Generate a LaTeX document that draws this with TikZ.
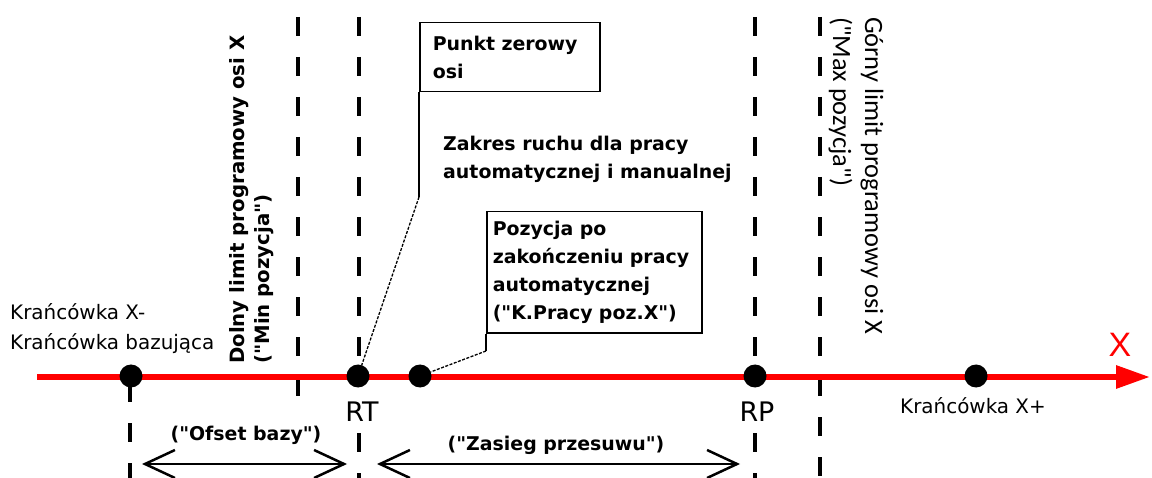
\documentclass[tikz,border=0pt]{standalone}
\usepackage{fontspec}
\setmainfont{DejaVu Sans}[Ligatures=TeXOff]
\newfontfamily\calib{Carlito}[Ligatures=TeXOff]
\newfontfamily\arialish{Liberation Sans}
\usetikzlibrary{arrows.meta}

\begin{document}
\begin{tikzpicture}[x=1bp,y=-1bp,
  guide/.style={line width=3.5bp, dash pattern=on 19bp off 21bp},
  axisline/.style={red, line width=6bp, -{Triangle[length=34bp,width=22bp]}},
  dot/.style={circle, fill=black, minimum size=23bp, inner sep=0pt},
  boldtxt/.style={font=\fontsize{19}{28}\selectfont\bfseries, inner sep=0pt, align=left},
  plaintxt/.style={font=\fontsize{20}{30}\selectfont, inner sep=0pt, align=left},
  ticktxt/.style={font=\fontsize{27}{27}\selectfont, inner sep=0pt},
  callout/.style={draw=black, line width=1.5bp, fill=white, align=left,
    font=\fontsize{19}{28}\selectfont\bfseries, inner ysep=0pt},
  leader/.style={black, line width=1.3bp},
  leaderdash/.style={black, line width=1.3bp, dash pattern=on 3bp off 1.5bp},
  dim/.style={line width=2.5bp,
    {Straight Barb[length=30bp,width=28bp]}-{Straight Barb[length=30bp,width=28bp]}}]

\useasboundingbox (0,0) rectangle (1152,478);

% vertical guide lines
\coordinate (gkt) at (130,383);  \coordinate (gkb) at (130,478);
\coordinate (gmint) at (298,17); \coordinate (gminb) at (298,398);
\coordinate (grtt) at (359,17);  \coordinate (grtm) at (359,366);
\coordinate (grtl) at (359,433); \coordinate (grtb) at (359,478);
\coordinate (grpt) at (755,17);  \coordinate (grpm) at (755,366);
\coordinate (grpl) at (755,433); \coordinate (grpb) at (755,478);
\coordinate (gmaxt) at (820,17); \coordinate (gmaxb) at (820,478);
\draw[guide] (gkt) -- (gkb);
\draw[guide] (gmint) -- (gminb);
\draw[guide] (grtt) -- (grtm);
\draw[guide] (grtl) -- (grtb);
\draw[guide] (grpt) -- (grpm);
\draw[guide] (grpl) -- (grpb);
\draw[guide] (gmaxt) -- (gmaxb);

% X axis
\coordinate (axs) at (37,377);
\coordinate (axe) at (1150,377);
\draw[axisline] (axs) -- (axe);
\node[font=\arialish\fontsize{34}{34}\selectfont, text=red, inner sep=0pt, anchor=base]
  (axname) at (1120,357) {X};

% callout boxes
\node[callout, anchor=north west, text width=154bp, inner xsep=13bp, minimum height=69bp]
  (zero) at (419,22) {Punkt zerowy\\osi};
\node[callout, anchor=north west, text width=203bp, inner xsep=6bp, minimum height=121bp]
  (endpos) at (486,211) {Pozycja po\\zakończeniu pracy\\automatycznej\\("K.Pracy poz.X")};

% points on the axis
\node[dot] (kxm) at (131,376) {};
\node[dot] (rt)  at (358,376) {};
\node[dot] (pe)  at (420,376) {};
\node[dot] (rp)  at (755,376) {};
\node[dot] (kxp) at (976,376) {};

% leaders from the callouts
\coordinate (zbend) at (419,197);
\coordinate (ebend) at (486,351);
\draw[leader] (zero.south west) -- (zbend);
\draw[leaderdash] (zbend) -- (rt);
\draw[leader] (endpos.south west) -- (ebend);
\draw[leaderdash] (ebend) -- (pe);

% texts
\node[boldtxt, anchor=north west] (range) at (443,136)
  {Zakres ruchu dla pracy\\automatycznej i manualnej};
\node[plaintxt, anchor=north west] (kxmlbl) at (10,303)
  {Krańcówka X-\\Krańcówka bazująca};
\node[plaintxt, anchor=base west] (kxplbl) at (900,413) {Krańcówka X+};
\node[ticktxt, anchor=base] (rtlbl) at (362,421) {RT};
\node[ticktxt, anchor=base] (rplbl) at (757,421) {RP};

\node[boldtxt, font=\fontsize{19.8}{25}\selectfont\bfseries, rotate=90, anchor=west]
  (minlbl) at (252,364) {Dolny limit programowy osi X\\("Min pozycja")};
\node[inner sep=0pt, align=left, font=\calib\fontsize{26.5}{32}\selectfont,
  rotate=-90, anchor=west]
  (maxlbl) at (856,17) {Górny limit programowy osi X\\("Max pozycja")};

% dimension arrows
\coordinate (ofl) at (142,464); \coordinate (ofr) at (347,464);
\coordinate (zrl) at (377,464); \coordinate (zrr) at (740,464);
\draw[dim] (ofl) -- (ofr);
\draw[dim] (zrl) -- (zrr);
\node[boldtxt, anchor=base] (oflbl) at (246,440) {("Ofset bazy")};
\node[boldtxt, anchor=base] (zrlbl) at (556,450) {("Zasieg przesuwu")};

\end{tikzpicture}
\end{document}
